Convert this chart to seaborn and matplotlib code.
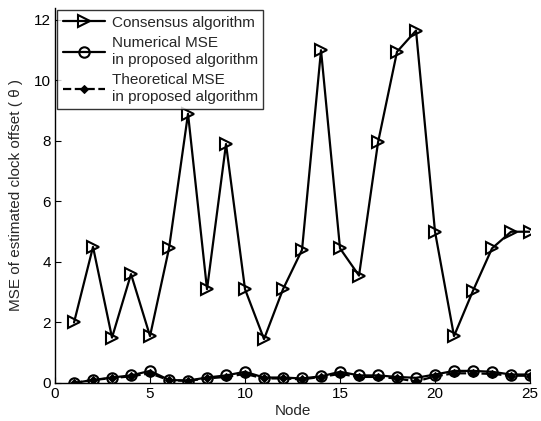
import matplotlib
matplotlib.use("Agg")
import matplotlib.pyplot as plt
import seaborn as sns
import pandas as pd

nodes = list(range(1, 26))
consensus = [2.0, 4.5, 1.5, 3.6, 1.55, 4.45, 8.9, 3.1, 7.9, 3.1, 1.45, 3.1, 4.4,
             11.0, 4.45, 3.55, 7.95, 10.95, 11.65, 5.0, 1.55, 3.05, 4.45, 5.0, 5.0]
numerical = [0.0, 0.1, 0.18, 0.25, 0.4, 0.1, 0.08, 0.18, 0.25, 0.37, 0.18, 0.18, 0.15,
             0.22, 0.37, 0.25, 0.25, 0.2, 0.17, 0.28, 0.4, 0.4, 0.37, 0.28, 0.28]
theoretical = [0.0, 0.1, 0.16, 0.22, 0.32, 0.09, 0.07, 0.15, 0.2, 0.3, 0.15, 0.15, 0.12,
               0.2, 0.3, 0.2, 0.2, 0.15, 0.05, 0.22, 0.32, 0.32, 0.3, 0.24, 0.24]

sns.set_style("ticks")
plt.rcParams['font.family'] = ['Liberation Sans', 'DejaVu Sans']
plt.rcParams['xtick.direction'] = 'in'
plt.rcParams['ytick.direction'] = 'in'

df = pd.DataFrame({'Node': nodes, 'Consensus': consensus,
                   'Numerical': numerical, 'Theoretical': theoretical})

fig = plt.figure(figsize=(5.41, 4.21), dpi=100)
ax = fig.add_axes([0.1017, 0.0903, 0.878, 0.891])

sns.lineplot(data=df, x='Node', y='Consensus', ax=ax, color='black', lw=1.6,
             marker='>', markersize=8.5, markerfacecolor='none', markeredgecolor='black',
             markeredgewidth=1.5, label='Consensus algorithm')
sns.lineplot(data=df, x='Node', y='Numerical', ax=ax, color='black', lw=1.6,
             marker='o', markersize=7.5, markerfacecolor='none', markeredgecolor='black',
             markeredgewidth=1.5, label='Numerical MSE\nin proposed algorithm')
sns.lineplot(data=df, x='Node', y='Theoretical', ax=ax, color='black', lw=1.6,
             linestyle='--', marker='D', markersize=4.5, markerfacecolor='black',
             markeredgecolor='black', label='Theoretical MSE\nin proposed algorithm')

ax.set_xlim(0, 25)
ax.set_ylim(0, 12.4)
ax.set_xticks([0, 5, 10, 15, 20, 25])
ax.set_yticks([0, 2, 4, 6, 8, 10, 12])
ax.tick_params(labelsize=11, length=4, color='black', labelcolor='black', pad=3)
ax.set_xlabel('Node', fontsize=11, labelpad=2)
ax.set_ylabel('MSE of estimated clock offset ( θ )', fontsize=11, labelpad=8)
sns.despine(ax=ax)
for s in ['left', 'bottom']:
    ax.spines[s].set_color('black')
    ax.spines[s].set_linewidth(1.0)

leg = ax.legend(loc='upper left', bbox_to_anchor=(0.0, 1.0), fontsize=11,
                frameon=True, fancybox=False, handlelength=2.8, labelspacing=0.45,
                borderpad=0.35, handletextpad=0.4, borderaxespad=0.15)
leg.get_frame().set_edgecolor('black')
leg.get_frame().set_linewidth(1.0)

fig.savefig('out.png', dpi=100)
